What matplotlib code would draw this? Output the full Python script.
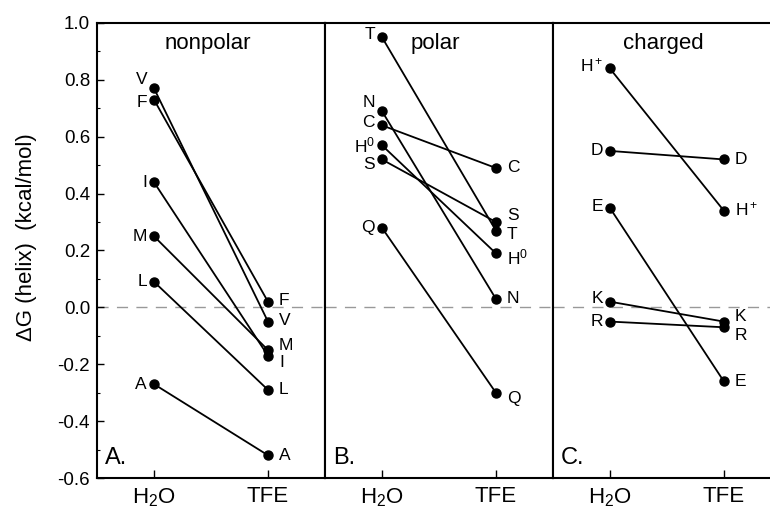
import numpy as np
import matplotlib
matplotlib.use('Agg')
import matplotlib.pyplot as plt
from matplotlib.ticker import MultipleLocator

plt.rcParams['font.family'] = ['Liberation Sans', 'DejaVu Sans']
plt.rcParams['mathtext.fontset'] = 'custom'
plt.rcParams['mathtext.rm'] = 'Liberation Sans'
plt.rcParams['mathtext.it'] = 'Liberation Sans'

# Helix propensities (kcal/mol) in water and in TFE, one pair per residue

# A. nonpolar
nonpolar_res = ['V', 'F', 'I', 'M', 'L', 'A']
nonpolar_h2o = [0.77, 0.73, 0.44, 0.25, 0.09, -0.27]
nonpolar_tfe = [-0.05, 0.02, -0.17, -0.15, -0.29, -0.52]

# B. polar
polar_res = ['T', 'N', 'C', r'H$^0$', 'S', 'Q']
polar_h2o = [0.95, 0.69, 0.64, 0.57, 0.52, 0.28]
polar_tfe = [0.27, 0.03, 0.49, 0.19, 0.30, -0.30]

# C. charged
charged_res = [r'H$^+$', 'D', 'E', 'K', 'R']
charged_h2o = [0.84, 0.55, 0.35, 0.02, -0.05]
charged_tfe = [0.34, 0.52, -0.26, -0.05, -0.07]

solvents = ['H$_2$O', 'TFE']
titles = ['nonpolar', 'polar', 'charged']
panel_tags = ['A.', 'B.', 'C.']

# vertical nudges (points) for labels that would collide
nudge_h2o = {'V': 6, 'F': -2, 'T': 2, 'N': 6, 'C': 2, 'S': -4,
             r'H$^+$': 2, 'E': 1, 'K': 2}
nudge_tfe = {'F': 1, 'V': 1, 'M': 3, 'I': -5, 'K': 4, 'R': -6, r'H$^+$': 1}
# polar panel: T sits just under S
nudge_tfe_polar = {'S': 5, 'T': -3, r'H$^0$': -3, 'Q': -4}


def draw_panel(ax, residues, h2o, tfe, title, tag, tfe_nudges):
    for res, a, b in zip(residues, h2o, tfe):
        ax.plot([0, 1], [a, b], color='black', lw=1.3, marker='o',
                ms=6.5, mfc='black', mec='black', zorder=3)
        ax.annotate(res, (0, a), xytext=(-5, nudge_h2o.get(res, 0)),
                    textcoords='offset points', ha='right', va='center',
                    fontsize=12.5)
        ax.annotate(res, (1, b), xytext=(8, tfe_nudges.get(res, 0)),
                    textcoords='offset points', ha='left', va='center',
                    fontsize=12.5)
    ax.axhline(0, color='#999999', lw=1.0, dashes=(8, 6), zorder=1)
    ax.text(0.485, 0.955, title, transform=ax.transAxes, ha='center',
            va='center', fontsize=16)
    ax.text(0.035, 0.03, tag, transform=ax.transAxes, ha='left',
            va='baseline', fontsize=17)
    ax.set_xlim(-0.5, 1.5)
    ax.set_ylim(-0.6, 1.0)
    ax.set_xticks([0, 1])
    ax.set_xticklabels(solvents, fontsize=16)
    ax.tick_params(axis='x', direction='in', length=6, width=1, pad=6)
    for sp in ax.spines.values():
        sp.set_linewidth(1.5)


fig = plt.figure(figsize=(7.7, 5.16), dpi=100)
left, bottom, width, height = 0.126, 0.0736, 0.296, 0.882

panels = [
    (nonpolar_res, nonpolar_h2o, nonpolar_tfe, nudge_tfe),
    (polar_res, polar_h2o, polar_tfe, nudge_tfe_polar),
    (charged_res, charged_h2o, charged_tfe, nudge_tfe),
]

axes = []
for i, (res, h2o, tfe, nud) in enumerate(panels):
    ax = fig.add_axes([left + i * width, bottom, width, height])
    draw_panel(ax, res, h2o, tfe, titles[i], panel_tags[i], nud)
    if i == 0:
        ax.yaxis.set_major_locator(MultipleLocator(0.2))
        ax.yaxis.set_minor_locator(MultipleLocator(0.1))
        ax.yaxis.set_major_formatter(plt.FormatStrFormatter('%.1f'))
        ax.tick_params(axis='y', which='major', direction='in', length=5,
                       width=1, labelsize=13.5, pad=5)
        ax.tick_params(axis='y', which='minor', direction='in', length=2.5,
                       width=0.8)
        ax.set_ylabel('ΔG (helix)  (kcal/mol)', fontsize=16)
        ax.yaxis.set_label_coords(-0.265, 0.53)
    else:
        ax.set_yticks([])
    axes.append(ax)

fig.savefig('out.png', dpi=100)
